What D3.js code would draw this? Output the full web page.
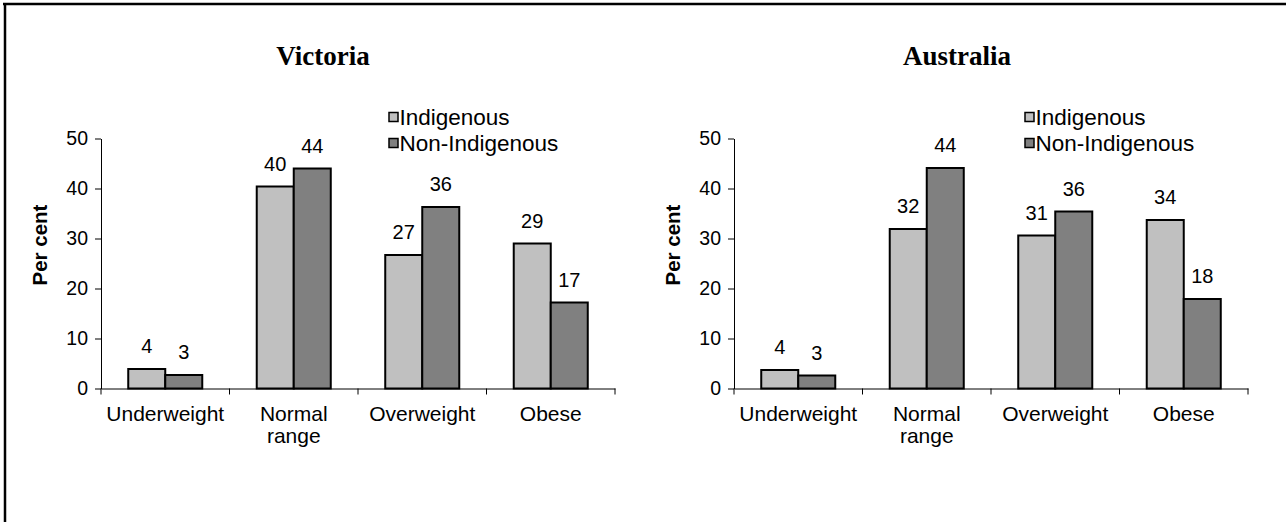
<!DOCTYPE html>
<html><head><meta charset="utf-8">
<script src="https://cdnjs.cloudflare.com/ajax/libs/d3/7.8.5/d3.min.js"></script>
<style>html,body{margin:0;padding:0;background:#fff;}svg{display:block;}</style>
</head><body>
<script>
const categories = ["Underweight", "Normal range", "Overweight", "Obese"];
const categoryLines = [["Underweight"], ["Normal", "range"], ["Overweight"], ["Obese"]];
const seriesNames = ["Indigenous", "Non-Indigenous"];
const yTicks = [0, 10, 20, 30, 40, 50];

const victoriaIndigenous = [3.9, 40.4, 26.7, 29.0];
const victoriaNonIndigenous = [2.7, 44.0, 36.3, 17.2];
const victoriaIndigenousLabels = ["4", "40", "27", "29"];
const victoriaNonIndigenousLabels = ["3", "44", "36", "17"];

const australiaIndigenous = [3.7, 31.9, 30.6, 33.7];
const australiaNonIndigenous = [2.6, 44.1, 35.4, 17.9];
const australiaIndigenousLabels = ["4", "32", "31", "34"];
const australiaNonIndigenousLabels = ["3", "44", "36", "18"];

const W = 1287, H = 522;
const colors = ["#c0c0c0", "#808080"];
const sans = "'Liberation Sans', Arial, sans-serif";

const svg = d3.select("body").append("svg").attr("width", W).attr("height", H);

// outer border (top and left visible)
svg.append("line").attr("x1", 3).attr("x2", 1286).attr("y1", 4).attr("y2", 4)
  .attr("stroke", "#000").attr("stroke-width", 2.5);
svg.append("line").attr("x1", 5).attr("x2", 5).attr("y1", 3).attr("y2", H)
  .attr("stroke", "#000").attr("stroke-width", 2.5);

const y = d3.scaleLinear().domain([0, 50]).range([388.5, 138.5]);

const panels = [
  {title: "Victoria", titleX: 323, x0: 101, x1: 615, legendX: 389, ylabX: 40,
   vals: [victoriaIndigenous, victoriaNonIndigenous],
   labs: [victoriaIndigenousLabels, victoriaNonIndigenousLabels]},
  {title: "Australia", titleX: 957, x0: 734, x1: 1248, legendX: 1025, ylabX: 673,
   vals: [australiaIndigenous, australiaNonIndigenous],
   labs: [australiaIndigenousLabels, australiaNonIndigenousLabels]}
];

panels.forEach(p => {
  const g = svg.append("g");
  const x = d3.scaleBand().domain(categories).range([p.x0, p.x1]).paddingInner(0).paddingOuter(0);
  const xs = d3.scaleBand().domain(seriesNames).range([0, x.bandwidth()]).paddingInner(0).paddingOuter(0.736);

  // title
  g.append("text").attr("x", p.titleX).attr("y", 65).attr("text-anchor", "middle")
    .attr("font-family", "'Liberation Serif', 'Times New Roman', serif").attr("font-weight", "bold")
    .attr("font-size", 27).text(p.title);

  // y axis
  const ya = g.append("g").attr("transform", `translate(${p.x0},0)`)
    .call(d3.axisLeft(y).tickValues(yTicks).tickSize(6).tickPadding(7).tickSizeOuter(0));
  ya.select(".domain").attr("stroke", "#000");
  ya.selectAll("text").attr("font-family", sans).attr("font-size", 19.5).attr("fill", "#000");

  // x axis
  const xa = g.append("g").attr("transform", `translate(0,${y(0)})`)
    .call(d3.axisBottom(x).tickSize(0).tickFormat(""));
  xa.select(".domain").attr("stroke", "#000");
  // boundary ticks
  const bounds = categories.map(c => x(c)).concat([x.range()[1]]);
  g.selectAll(".xtick").data(bounds).join("line").attr("class", "xtick")
    .attr("x1", d => d).attr("x2", d => d).attr("y1", y(0)).attr("y2", y(0) + 6)
    .attr("stroke", "#000");
  // category labels
  categories.forEach((c, i) => {
    const t = g.append("text").attr("text-anchor", "middle").attr("font-family", sans)
      .attr("font-size", 21).attr("fill", "#000");
    categoryLines[i].forEach((ln, k) => {
      t.append("tspan").attr("x", x(c) + x.bandwidth() / 2).attr("y", 420.5 + k * 22).text(ln);
    });
  });

  // bars
  seriesNames.forEach((s, si) => {
    g.selectAll(".bar" + si).data(categories).join("rect").attr("class", "bar" + si)
      .attr("x", c => x(c) + xs(s)).attr("width", xs.bandwidth())
      .attr("y", (c, i) => y(p.vals[si][i])).attr("height", (c, i) => y(0) - y(p.vals[si][i]))
      .attr("fill", colors[si]).attr("stroke", "#000").attr("stroke-width", 2);
    g.selectAll(".lab" + si).data(categories).join("text").attr("class", "lab" + si)
      .attr("x", c => x(c) + xs(s) + xs.bandwidth() / 2)
      .attr("y", (c, i) => y(p.vals[si][i]) - 16)
      .attr("text-anchor", "middle").attr("font-family", sans).attr("font-size", 20)
      .attr("fill", "#000").text((c, i) => p.labs[si][i]);
  });

  // y label
  g.append("text").attr("transform", `translate(${p.ylabX + 7},245) rotate(-90)`)
    .attr("text-anchor", "middle").attr("font-family", sans).attr("font-weight", "bold")
    .attr("font-size", 20.5).text("Per cent");

  // legend
  seriesNames.forEach((s, si) => {
    const cy = 117 + si * 26;
    g.append("rect").attr("x", p.legendX).attr("y", cy - 4.5).attr("width", 9).attr("height", 9)
      .attr("fill", colors[si]).attr("stroke", "#000").attr("stroke-width", 1.5);
    g.append("text").attr("x", p.legendX + 10.5).attr("y", cy + 8).attr("font-family", sans)
      .attr("font-size", 22.5).attr("fill", "#000").text(s);
  });
});
</script>
</body></html>
